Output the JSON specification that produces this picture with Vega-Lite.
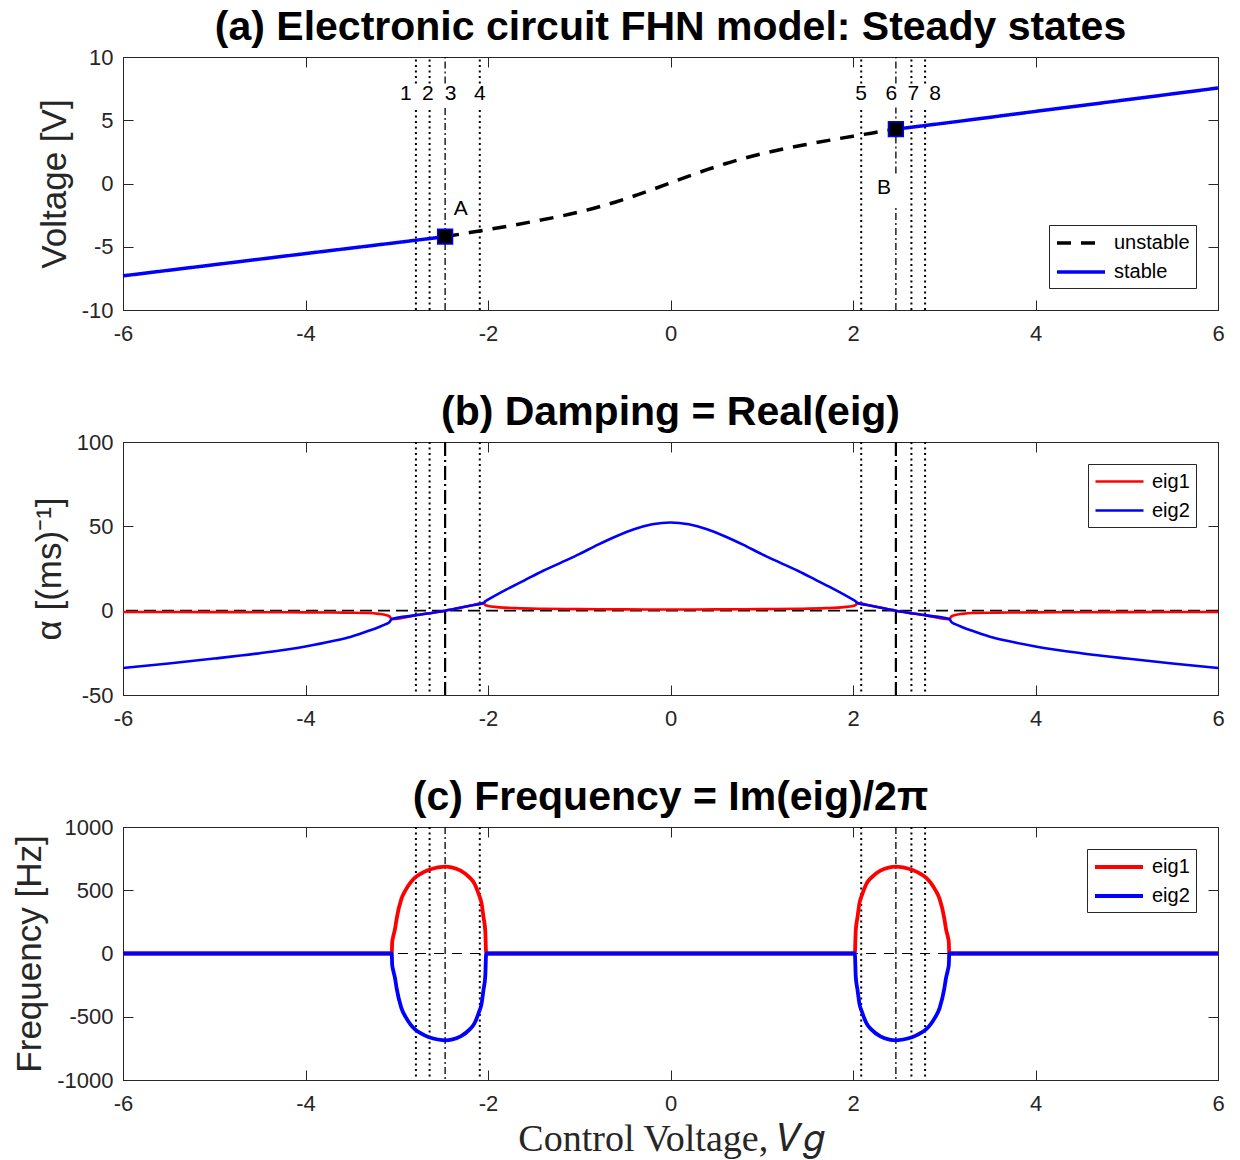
{
  "$schema": "https://vega.github.io/schema/vega-lite/v6.json",
  "padding": {"left": 12, "top": 6, "right": 20, "bottom": 0},
  "spacing": 46,
  "config": {
    "font": "Liberation Sans",
    "view": {"stroke": "#262626", "strokeWidth": 1},
    "axis": {"grid": false, "labelFlush": false, "domainColor": "#262626", "tickColor": "#262626", "labelColor": "#262626", "labelFontSize": 22, "labelFont": "Liberation Sans", "tickSize": -10, "tickWidth": 1, "titleColor": "#262626", "titleFontWeight": "normal", "titleFontSize": 35, "titleFont": "Liberation Sans"},
    "axisX": {"labelPadding": 23, "titlePadding": 6},
    "axisY": {"labelPadding": 20, "titlePadding": 9},
    "title": {"fontSize": 41, "fontWeight": "bold", "font": "Liberation Sans", "color": "black", "offset": -3, "anchor": "middle"},
    "legend": {"fillColor": "white", "strokeColor": "#262626", "padding": 6, "labelFontSize": 20, "labelColor": "black", "labelFont": "Liberation Sans", "symbolStrokeWidth": 3, "symbolSize": 400, "symbolType": "M-1,0H3.8", "rowPadding": 7, "labelOffset": 35, "offset": 22}
  },
  "datasets": {
    "curve_a": [
      {"x": -6, "y": -7.3, "type": "stable", "seg": "L"},
      {"x": -5, "y": -6.42, "type": "stable", "seg": "L"},
      {"x": -4, "y": -5.54, "type": "stable", "seg": "L"},
      {"x": -3, "y": -4.67, "type": "stable", "seg": "L"},
      {"x": -2.47, "y": -4.2, "type": "stable", "seg": "L"},
      {"x": -2.47, "y": -4.2, "type": "unstable", "seg": "U"},
      {"x": -2.2, "y": -3.88, "type": "unstable", "seg": "U"},
      {"x": -2.0, "y": -3.64, "type": "unstable", "seg": "U"},
      {"x": -1.75, "y": -3.33, "type": "unstable", "seg": "U"},
      {"x": -1.5, "y": -3.0, "type": "unstable", "seg": "U"},
      {"x": -1.25, "y": -2.65, "type": "unstable", "seg": "U"},
      {"x": -1.0, "y": -2.25, "type": "unstable", "seg": "U"},
      {"x": -0.8, "y": -1.88, "type": "unstable", "seg": "U"},
      {"x": -0.6, "y": -1.46, "type": "unstable", "seg": "U"},
      {"x": -0.4, "y": -0.99, "type": "unstable", "seg": "U"},
      {"x": -0.2, "y": -0.48, "type": "unstable", "seg": "U"},
      {"x": 0, "y": 0.05, "type": "unstable", "seg": "U"},
      {"x": 0.2, "y": 0.58, "type": "unstable", "seg": "U"},
      {"x": 0.4, "y": 1.09, "type": "unstable", "seg": "U"},
      {"x": 0.6, "y": 1.56, "type": "unstable", "seg": "U"},
      {"x": 0.8, "y": 1.98, "type": "unstable", "seg": "U"},
      {"x": 1.0, "y": 2.35, "type": "unstable", "seg": "U"},
      {"x": 1.25, "y": 2.75, "type": "unstable", "seg": "U"},
      {"x": 1.5, "y": 3.1, "type": "unstable", "seg": "U"},
      {"x": 1.75, "y": 3.43, "type": "unstable", "seg": "U"},
      {"x": 2.0, "y": 3.74, "type": "unstable", "seg": "U"},
      {"x": 2.2, "y": 3.98, "type": "unstable", "seg": "U"},
      {"x": 2.47, "y": 4.3, "type": "unstable", "seg": "U"},
      {"x": 2.47, "y": 4.3, "type": "stable", "seg": "R"},
      {"x": 3, "y": 4.77, "type": "stable", "seg": "R"},
      {"x": 4, "y": 5.7, "type": "stable", "seg": "R"},
      {"x": 5, "y": 6.62, "type": "stable", "seg": "R"},
      {"x": 6, "y": 7.55, "type": "stable", "seg": "R"}
    ],
    "pts_a": [{"x": -2.47, "y": -4.2}, {"x": 2.47, "y": 4.3}],
    "nums_a": [
      {"x": -2.9, "y": 7.07, "t": "1"}, {"x": -2.66, "y": 7.07, "t": "2"}, {"x": -2.41, "y": 7.07, "t": "3"}, {"x": -2.09, "y": 7.07, "t": "4"},
      {"x": 2.09, "y": 7.07, "t": "5"}, {"x": 2.42, "y": 7.07, "t": "6"}, {"x": 2.66, "y": 7.07, "t": "7"}, {"x": 2.9, "y": 7.07, "t": "8"},
      {"x": -2.3, "y": -2.0, "t": "A"}, {"x": 2.34, "y": -0.35, "t": "B"}
    ],
    "vl_a": [
      {"x": -2.79, "y": -10, "y2": 6.0, "k": "dot"}, {"x": -2.79, "y": 7.9, "y2": 10, "k": "dot"},
      {"x": -2.64, "y": -10, "y2": 6.0, "k": "dot"}, {"x": -2.64, "y": 7.9, "y2": 10, "k": "dot"},
      {"x": -2.09, "y": -10, "y2": 6.0, "k": "dot"}, {"x": -2.09, "y": 7.9, "y2": 10, "k": "dot"},
      {"x": 2.09, "y": -10, "y2": 6.0, "k": "dot"}, {"x": 2.09, "y": 7.9, "y2": 10, "k": "dot"},
      {"x": 2.64, "y": -10, "y2": 6.0, "k": "dot"}, {"x": 2.64, "y": 7.9, "y2": 10, "k": "dot"},
      {"x": 2.79, "y": -10, "y2": 6.0, "k": "dot"}, {"x": 2.79, "y": 7.9, "y2": 10, "k": "dot"},
      {"x": -2.47, "y": -10, "y2": 6.0, "k": "dd"}, {"x": -2.47, "y": 7.9, "y2": 10, "k": "dd"},
      {"x": 2.47, "y": -10, "y2": -1.7, "k": "dd"}, {"x": 2.47, "y": 0.8, "y2": 6.0, "k": "dd"}, {"x": 2.47, "y": 7.9, "y2": 10, "k": "dd"}
    ],
    "vl": [
      {"x": -2.79, "k": "dot"}, {"x": -2.64, "k": "dot"}, {"x": -2.09, "k": "dot"},
      {"x": 2.09, "k": "dot"}, {"x": 2.64, "k": "dot"}, {"x": 2.79, "k": "dot"},
      {"x": -2.47, "k": "dd"}, {"x": 2.47, "k": "dd"}
    ],
    "one": [{"x": 0, "y": 0}],
    "eig_b": [
      {"x": -6, "y": -0.8, "e": "eig1"}, {"x": -5, "y": -0.85, "e": "eig1"}, {"x": -4.5, "y": -0.9, "e": "eig1"}, {"x": -4, "y": -1.0, "e": "eig1"},
      {"x": -3.7, "y": -1.1, "e": "eig1"}, {"x": -3.5, "y": -1.2, "e": "eig1"}, {"x": -3.3, "y": -1.4, "e": "eig1"}, {"x": -3.2, "y": -1.9, "e": "eig1"},
      {"x": -3.12, "y": -2.6, "e": "eig1"}, {"x": -3.08, "y": -3.4, "e": "eig1"}, {"x": -3.055, "y": -5.0, "e": "eig1"}, {"x": -2.8, "y": -2.8, "e": "eig1"},
      {"x": -2.47, "y": 0, "e": "eig1"}, {"x": -2.2, "y": 2.9, "e": "eig1"}, {"x": -2.05, "y": 4.5, "e": "eig1"}, {"x": -2.03, "y": 3.4, "e": "eig1"},
      {"x": -2.0, "y": 2.8, "e": "eig1"}, {"x": -1.9, "y": 2.1, "e": "eig1"}, {"x": -1.7, "y": 1.5, "e": "eig1"}, {"x": -1.4, "y": 1.1, "e": "eig1"},
      {"x": -1.0, "y": 0.9, "e": "eig1"}, {"x": -0.5, "y": 0.75, "e": "eig1"}, {"x": 0, "y": 0.7, "e": "eig1"},
      {"x": 0.5, "y": 0.75, "e": "eig1"}, {"x": 1.0, "y": 0.9, "e": "eig1"}, {"x": 1.4, "y": 1.1, "e": "eig1"}, {"x": 1.7, "y": 1.5, "e": "eig1"},
      {"x": 1.9, "y": 2.1, "e": "eig1"}, {"x": 2.0, "y": 2.8, "e": "eig1"}, {"x": 2.03, "y": 3.4, "e": "eig1"}, {"x": 2.05, "y": 4.5, "e": "eig1"},
      {"x": 2.2, "y": 2.9, "e": "eig1"}, {"x": 2.47, "y": 0, "e": "eig1"}, {"x": 2.8, "y": -2.8, "e": "eig1"}, {"x": 3.055, "y": -5.0, "e": "eig1"},
      {"x": 3.08, "y": -3.4, "e": "eig1"}, {"x": 3.12, "y": -2.6, "e": "eig1"}, {"x": 3.2, "y": -1.9, "e": "eig1"}, {"x": 3.3, "y": -1.4, "e": "eig1"},
      {"x": 3.5, "y": -1.2, "e": "eig1"}, {"x": 3.7, "y": -1.1, "e": "eig1"}, {"x": 4, "y": -1.0, "e": "eig1"}, {"x": 4.5, "y": -0.9, "e": "eig1"},
      {"x": 5, "y": -0.85, "e": "eig1"}, {"x": 6, "y": -0.8, "e": "eig1"},
      {"x": -6, "y": -34, "e": "eig2"}, {"x": -5.5, "y": -31.3, "e": "eig2"}, {"x": -5, "y": -28.4, "e": "eig2"}, {"x": -4.5, "y": -25.2, "e": "eig2"},
      {"x": -4, "y": -21.2, "e": "eig2"}, {"x": -3.7, "y": -18.0, "e": "eig2"}, {"x": -3.5, "y": -15.4, "e": "eig2"}, {"x": -3.3, "y": -11.8, "e": "eig2"},
      {"x": -3.2, "y": -9.8, "e": "eig2"}, {"x": -3.12, "y": -8.0, "e": "eig2"}, {"x": -3.08, "y": -6.8, "e": "eig2"}, {"x": -3.055, "y": -5.0, "e": "eig2"},
      {"x": -2.8, "y": -2.8, "e": "eig2"}, {"x": -2.47, "y": 0, "e": "eig2"}, {"x": -2.2, "y": 2.9, "e": "eig2"}, {"x": -2.05, "y": 4.5, "e": "eig2"},
      {"x": -2.03, "y": 5.5, "e": "eig2"}, {"x": -2.0, "y": 6.5, "e": "eig2"}, {"x": -1.8, "y": 12.5, "e": "eig2"}, {"x": -1.6, "y": 18, "e": "eig2"},
      {"x": -1.4, "y": 23.5, "e": "eig2"}, {"x": -1.2, "y": 28.5, "e": "eig2"}, {"x": -1.0, "y": 33.5, "e": "eig2"}, {"x": -0.8, "y": 39, "e": "eig2"},
      {"x": -0.6, "y": 44, "e": "eig2"}, {"x": -0.4, "y": 48.3, "e": "eig2"}, {"x": -0.2, "y": 51.2, "e": "eig2"}, {"x": 0, "y": 52.3, "e": "eig2"},
      {"x": 0.2, "y": 51.2, "e": "eig2"}, {"x": 0.4, "y": 48.3, "e": "eig2"}, {"x": 0.6, "y": 44, "e": "eig2"}, {"x": 0.8, "y": 39, "e": "eig2"},
      {"x": 1.0, "y": 33.5, "e": "eig2"}, {"x": 1.2, "y": 28.5, "e": "eig2"}, {"x": 1.4, "y": 23.5, "e": "eig2"}, {"x": 1.6, "y": 18, "e": "eig2"},
      {"x": 1.8, "y": 12.5, "e": "eig2"}, {"x": 2.0, "y": 6.5, "e": "eig2"}, {"x": 2.03, "y": 5.5, "e": "eig2"}, {"x": 2.05, "y": 4.5, "e": "eig2"},
      {"x": 2.2, "y": 2.9, "e": "eig2"}, {"x": 2.47, "y": 0, "e": "eig2"}, {"x": 2.8, "y": -2.8, "e": "eig2"}, {"x": 3.055, "y": -5.0, "e": "eig2"},
      {"x": 3.08, "y": -6.8, "e": "eig2"}, {"x": 3.12, "y": -8.0, "e": "eig2"}, {"x": 3.2, "y": -9.8, "e": "eig2"}, {"x": 3.3, "y": -11.8, "e": "eig2"},
      {"x": 3.5, "y": -15.4, "e": "eig2"}, {"x": 3.7, "y": -18.0, "e": "eig2"}, {"x": 4, "y": -21.2, "e": "eig2"}, {"x": 4.5, "y": -25.2, "e": "eig2"},
      {"x": 5, "y": -28.4, "e": "eig2"}, {"x": 5.5, "y": -31.3, "e": "eig2"}, {"x": 6, "y": -34, "e": "eig2"}
    ],
    "eig_c": [
      {"x": -6, "y": 0, "e": "eig1"}, {"x": -3.055, "y": 0, "e": "eig1"}, {"x": -3.05, "y": 90, "e": "eig1"}, {"x": -3.04, "y": 130, "e": "eig1"},
      {"x": -3.02, "y": 190, "e": "eig1"}, {"x": -3.0, "y": 280, "e": "eig1"}, {"x": -2.95, "y": 430, "e": "eig1"}, {"x": -2.9, "y": 505, "e": "eig1"},
      {"x": -2.85, "y": 560, "e": "eig1"}, {"x": -2.8, "y": 600, "e": "eig1"}, {"x": -2.7, "y": 645, "e": "eig1"}, {"x": -2.6, "y": 672, "e": "eig1"},
      {"x": -2.5, "y": 685, "e": "eig1"}, {"x": -2.47, "y": 686, "e": "eig1"}, {"x": -2.4, "y": 681, "e": "eig1"}, {"x": -2.3, "y": 655, "e": "eig1"},
      {"x": -2.2, "y": 600, "e": "eig1"}, {"x": -2.15, "y": 555, "e": "eig1"}, {"x": -2.1, "y": 465, "e": "eig1"}, {"x": -2.07, "y": 395, "e": "eig1"},
      {"x": -2.05, "y": 290, "e": "eig1"}, {"x": -2.03, "y": 180, "e": "eig1"}, {"x": -2.02, "y": 0, "e": "eig1"},
      {"x": 2.02, "y": 0, "e": "eig1"}, {"x": 2.03, "y": 180, "e": "eig1"}, {"x": 2.05, "y": 290, "e": "eig1"}, {"x": 2.07, "y": 395, "e": "eig1"},
      {"x": 2.1, "y": 465, "e": "eig1"}, {"x": 2.15, "y": 555, "e": "eig1"}, {"x": 2.2, "y": 600, "e": "eig1"}, {"x": 2.3, "y": 655, "e": "eig1"},
      {"x": 2.4, "y": 681, "e": "eig1"}, {"x": 2.47, "y": 686, "e": "eig1"}, {"x": 2.5, "y": 685, "e": "eig1"}, {"x": 2.6, "y": 672, "e": "eig1"},
      {"x": 2.7, "y": 645, "e": "eig1"}, {"x": 2.8, "y": 600, "e": "eig1"}, {"x": 2.85, "y": 560, "e": "eig1"}, {"x": 2.9, "y": 505, "e": "eig1"},
      {"x": 2.95, "y": 430, "e": "eig1"}, {"x": 3.0, "y": 280, "e": "eig1"}, {"x": 3.02, "y": 190, "e": "eig1"}, {"x": 3.04, "y": 130, "e": "eig1"},
      {"x": 3.05, "y": 90, "e": "eig1"}, {"x": 3.055, "y": 0, "e": "eig1"}, {"x": 6, "y": 0, "e": "eig1"},
      {"x": -6, "y": 0, "e": "eig2"}, {"x": -3.055, "y": 0, "e": "eig2"}, {"x": -3.05, "y": -90, "e": "eig2"}, {"x": -3.04, "y": -130, "e": "eig2"},
      {"x": -3.02, "y": -190, "e": "eig2"}, {"x": -3.0, "y": -280, "e": "eig2"}, {"x": -2.95, "y": -430, "e": "eig2"}, {"x": -2.9, "y": -505, "e": "eig2"},
      {"x": -2.85, "y": -560, "e": "eig2"}, {"x": -2.8, "y": -600, "e": "eig2"}, {"x": -2.7, "y": -645, "e": "eig2"}, {"x": -2.6, "y": -672, "e": "eig2"},
      {"x": -2.5, "y": -685, "e": "eig2"}, {"x": -2.47, "y": -686, "e": "eig2"}, {"x": -2.4, "y": -681, "e": "eig2"}, {"x": -2.3, "y": -655, "e": "eig2"},
      {"x": -2.2, "y": -600, "e": "eig2"}, {"x": -2.15, "y": -555, "e": "eig2"}, {"x": -2.1, "y": -465, "e": "eig2"}, {"x": -2.07, "y": -395, "e": "eig2"},
      {"x": -2.05, "y": -290, "e": "eig2"}, {"x": -2.03, "y": -180, "e": "eig2"}, {"x": -2.02, "y": 0, "e": "eig2"},
      {"x": 2.02, "y": 0, "e": "eig2"}, {"x": 2.03, "y": -180, "e": "eig2"}, {"x": 2.05, "y": -290, "e": "eig2"}, {"x": 2.07, "y": -395, "e": "eig2"},
      {"x": 2.1, "y": -465, "e": "eig2"}, {"x": 2.15, "y": -555, "e": "eig2"}, {"x": 2.2, "y": -600, "e": "eig2"}, {"x": 2.3, "y": -655, "e": "eig2"},
      {"x": 2.4, "y": -681, "e": "eig2"}, {"x": 2.47, "y": -686, "e": "eig2"}, {"x": 2.5, "y": -685, "e": "eig2"}, {"x": 2.6, "y": -672, "e": "eig2"},
      {"x": 2.7, "y": -645, "e": "eig2"}, {"x": 2.8, "y": -600, "e": "eig2"}, {"x": 2.85, "y": -560, "e": "eig2"}, {"x": 2.9, "y": -505, "e": "eig2"},
      {"x": 2.95, "y": -430, "e": "eig2"}, {"x": 3.0, "y": -280, "e": "eig2"}, {"x": 3.02, "y": -190, "e": "eig2"}, {"x": 3.04, "y": -130, "e": "eig2"},
      {"x": 3.05, "y": -90, "e": "eig2"}, {"x": 3.055, "y": 0, "e": "eig2"}, {"x": 6, "y": 0, "e": "eig2"}
    ]
  },
  "resolve": {"scale": {"color": "independent", "strokeDash": "independent"}},
  "vconcat": [
    {
      "title": "(a) Electronic circuit FHN model: Steady states",
      "width": 1095, "height": 253,
      "resolve": {"axis": {"x": "independent", "y": "independent"}},
      "layer": [
        {
          "data": {"name": "vl_a"},
          "transform": [{"filter": "datum.k == 'dot'"}],
          "mark": {"type": "rule", "color": "black", "strokeWidth": 2, "strokeDash": [2, 3.5]},
          "encoding": {
            "x": {"field": "x", "type": "quantitative", "scale": {"domain": [-6, 6], "nice": false}, "axis": null},
            "y": {"field": "y", "type": "quantitative", "scale": {"domain": [-10, 10], "nice": false}, "axis": null},
            "y2": {"field": "y2"}
          }
        },
        {
          "data": {"name": "vl_a"},
          "transform": [{"filter": "datum.k == 'dd'"}],
          "mark": {"type": "rule", "color": "black", "strokeWidth": 1.3, "strokeDash": [7, 3, 2, 3]},
          "encoding": {
            "x": {"field": "x", "type": "quantitative", "scale": {"domain": [-6, 6], "nice": false}, "axis": null},
            "y": {"field": "y", "type": "quantitative", "scale": {"domain": [-10, 10], "nice": false}, "axis": null},
            "y2": {"field": "y2"}
          }
        },
        {
          "data": {"name": "curve_a"},
          "mark": {"type": "line", "strokeWidth": 3.5, "interpolate": "monotone"},
          "encoding": {
            "x": {"field": "x", "type": "quantitative", "scale": {"domain": [-6, 6], "nice": false}, "axis": {"values": [-6, -4, -2, 0, 2, 4, 6], "title": null, "labelExpr": "datum.value + ''"}},
            "y": {"field": "y", "type": "quantitative", "scale": {"domain": [-10, 10], "nice": false}, "axis": {"values": [-10, -5, 0, 5, 10], "title": "Voltage [V]", "labelExpr": "datum.value + ''"}},
            "color": {"field": "type", "type": "nominal", "scale": {"domain": ["unstable", "stable"], "range": ["black", "blue"]}, "legend": {"title": null, "orient": "bottom-right", "symbolStrokeWidth": 3.5}},
            "strokeDash": {"field": "type", "type": "nominal", "scale": {"domain": ["unstable", "stable"], "range": [[14, 10], [1, 0]]}, "legend": {"title": null, "orient": "bottom-right", "symbolStrokeWidth": 3.5}},
            "detail": {"field": "seg"}
          }
        },
        {
          "data": {"name": "pts_a"},
          "mark": {"type": "point", "shape": "square", "size": 220, "filled": true, "fill": "black", "stroke": "blue", "strokeWidth": 1.5, "opacity": 1},
          "encoding": {
            "x": {"field": "x", "type": "quantitative", "scale": {"domain": [-6, 6], "nice": false}, "axis": null},
            "y": {"field": "y", "type": "quantitative", "scale": {"domain": [-10, 10], "nice": false}, "axis": null}
          }
        },
        {
          "data": {"name": "nums_a"},
          "mark": {"type": "text", "fontSize": 21, "color": "black", "align": "center", "baseline": "middle"},
          "encoding": {
            "x": {"field": "x", "type": "quantitative", "scale": {"domain": [-6, 6], "nice": false}, "axis": null},
            "y": {"field": "y", "type": "quantitative", "scale": {"domain": [-10, 10], "nice": false}, "axis": null},
            "text": {"field": "t"}
          }
        },
        {
          "data": {"name": "one"},
          "mark": {"type": "point", "opacity": 0},
          "encoding": {
            "x": {"field": "x", "type": "quantitative", "scale": {"domain": [-6, 6], "nice": false}, "axis": {"orient": "top", "values": [-6, -4, -2, 0, 2, 4, 6], "labels": false, "domain": false, "title": null}},
            "y": {"field": "y", "type": "quantitative", "scale": {"domain": [-10, 10], "nice": false}, "axis": {"orient": "right", "values": [-10, -5, 0, 5, 10], "labels": false, "domain": false, "title": null}}
          }
        }
      ]
    },
    {
      "title": "(b) Damping = Real(eig)",
      "width": 1095, "height": 253,
      "resolve": {"axis": {"x": "independent", "y": "independent"}},
      "layer": [
        {
          "data": {"name": "vl"},
          "transform": [{"filter": "datum.k == 'dot'"}],
          "mark": {"type": "rule", "color": "black", "strokeWidth": 2, "strokeDash": [2, 3.5]},
          "encoding": {"x": {"field": "x", "type": "quantitative", "scale": {"domain": [-6, 6], "nice": false}, "axis": null}}
        },
        {
          "data": {"name": "vl"},
          "transform": [{"filter": "datum.k == 'dd'"}],
          "mark": {"type": "rule", "color": "black", "strokeWidth": 2.2, "strokeDash": [14, 4, 2, 4]},
          "encoding": {"x": {"field": "x", "type": "quantitative", "scale": {"domain": [-6, 6], "nice": false}, "axis": null}}
        },
        {
          "data": {"name": "one"},
          "mark": {"type": "rule", "color": "black", "strokeWidth": 1.8, "strokeDash": [12, 6]},
          "encoding": {"y": {"datum": 0, "type": "quantitative", "scale": {"domain": [-50, 100], "nice": false}, "axis": null}}
        },
        {
          "data": {"name": "eig_b"},
          "mark": {"type": "line", "strokeWidth": 2.6, "interpolate": "monotone"},
          "encoding": {
            "x": {"field": "x", "type": "quantitative", "scale": {"domain": [-6, 6], "nice": false}, "axis": {"values": [-6, -4, -2, 0, 2, 4, 6], "title": null, "labelExpr": "datum.value + ''"}},
            "y": {"field": "y", "type": "quantitative", "scale": {"domain": [-50, 100], "nice": false}, "axis": {"values": [-50, 0, 50, 100], "title": "α [(ms)⁻¹]", "labelExpr": "datum.value + ''"}},
            "color": {"field": "e", "type": "nominal", "scale": {"domain": ["eig1", "eig2"], "range": ["red", "blue"]}, "legend": {"title": null, "orient": "top-right", "symbolStrokeWidth": 2.6}}
          }
        },
        {
          "data": {"name": "one"},
          "mark": {"type": "point", "opacity": 0},
          "encoding": {
            "x": {"field": "x", "type": "quantitative", "scale": {"domain": [-6, 6], "nice": false}, "axis": {"orient": "top", "values": [-6, -4, -2, 0, 2, 4, 6], "labels": false, "domain": false, "title": null}},
            "y": {"field": "y", "type": "quantitative", "scale": {"domain": [-50, 100], "nice": false}, "axis": {"orient": "right", "values": [-50, 0, 50, 100], "labels": false, "domain": false, "title": null}}
          }
        }
      ]
    },
    {
      "title": "(c) Frequency = Im(eig)/2π",
      "width": 1095, "height": 253,
      "resolve": {"axis": {"x": "independent", "y": "independent"}},
      "layer": [
        {
          "data": {"name": "vl"},
          "transform": [{"filter": "datum.k == 'dot'"}],
          "mark": {"type": "rule", "color": "black", "strokeWidth": 2, "strokeDash": [2, 3.5]},
          "encoding": {"x": {"field": "x", "type": "quantitative", "scale": {"domain": [-6, 6], "nice": false}, "axis": null}}
        },
        {
          "data": {"name": "vl"},
          "transform": [{"filter": "datum.k == 'dd'"}],
          "mark": {"type": "rule", "color": "black", "strokeWidth": 1.3, "strokeDash": [7, 3, 2, 3]},
          "encoding": {"x": {"field": "x", "type": "quantitative", "scale": {"domain": [-6, 6], "nice": false}, "axis": null}}
        },
        {
          "data": {"name": "one"},
          "mark": {"type": "rule", "color": "black", "strokeWidth": 1, "strokeDash": [10, 8]},
          "encoding": {"y": {"datum": 0, "type": "quantitative", "scale": {"domain": [-1000, 1000], "nice": false}, "axis": null}}
        },
        {
          "data": {"name": "eig_c"},
          "mark": {"type": "line", "strokeWidth": 3.8, "interpolate": "monotone"},
          "encoding": {
            "x": {"field": "x", "type": "quantitative", "scale": {"domain": [-6, 6], "nice": false}, "axis": {"values": [-6, -4, -2, 0, 2, 4, 6], "title": "Control Voltage, 𝑉𝑔", "titleFont": "Liberation Serif", "titleFontSize": 38, "labelExpr": "datum.value + ''"}},
            "y": {"field": "y", "type": "quantitative", "scale": {"domain": [-1000, 1000], "nice": false}, "axis": {"values": [-1000, -500, 0, 500, 1000], "title": "Frequency [Hz]", "labelExpr": "datum.value + ''"}},
            "color": {"field": "e", "type": "nominal", "scale": {"domain": ["eig1", "eig2"], "range": ["red", "blue"]}, "legend": {"title": null, "orient": "top-right", "symbolStrokeWidth": 3.8}}
          }
        },
        {
          "data": {"name": "one"},
          "mark": {"type": "point", "opacity": 0},
          "encoding": {
            "x": {"field": "x", "type": "quantitative", "scale": {"domain": [-6, 6], "nice": false}, "axis": {"orient": "top", "values": [-6, -4, -2, 0, 2, 4, 6], "labels": false, "domain": false, "title": null}},
            "y": {"field": "y", "type": "quantitative", "scale": {"domain": [-1000, 1000], "nice": false}, "axis": {"orient": "right", "values": [-1000, -500, 0, 500, 1000], "labels": false, "domain": false, "title": null}}
          }
        }
      ]
    }
  ]
}
